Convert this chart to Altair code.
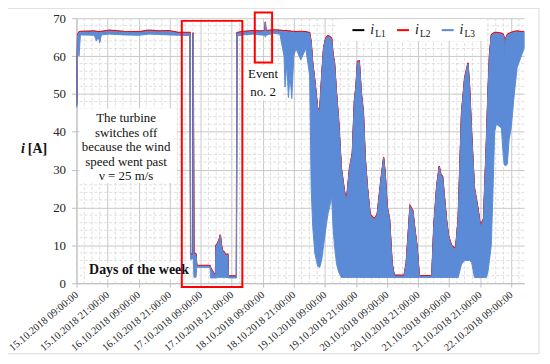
import altair as alt
import pandas as pd

# time in hours after 15.10.2018 09:00:00, upper / lower envelope of the phase currents [A]
hours = [0.1, 0.4, 1.0, 1.5, 6.9, 7.7, 8.4, 9.0, 9.6, 12.7, 18.4, 24.2, 28.0, 31.8, 35.7, 39.5,
         43.9, 44.1, 45.0, 45.1, 45.4, 46.2, 46.5, 51.6, 51.8, 53.7, 53.9, 54.5, 55.2, 55.6, 56.0,
         56.4, 57.2, 57.5, 58.5, 58.7, 61.8, 62.0,
         64.4, 68.3, 71.0, 72.8, 73.0, 73.2, 76.0, 78.6, 80.2, 80.6, 81.3, 81.9, 82.5, 83.2, 84.0,
         84.8, 86.7, 88.6, 90.1, 90.7, 91.3, 92.1, 93.2, 94.0, 94.8, 95.5, 96.3, 97.1, 97.8, 98.6,
         99.2, 99.7, 100.5, 101.3, 102.4, 103.6, 104.3, 105.5, 106.6, 107.4, 108.0, 108.6, 109.3,
         110.1, 110.9, 111.6, 112.4, 113.5, 115.1, 116.2, 117.8, 118.7, 119.3, 120.1, 121.0, 122.0,
         122.8, 126.6, 127.4, 128.1, 128.9, 130.0, 130.8, 131.6, 132.5, 137.3, 138.1, 139.2, 140.2,
         140.8, 141.5, 142.3, 143.1, 143.8, 145.0, 146.5, 147.5, 148.8, 150.0, 151.3, 151.9, 152.7,
         153.8, 155.2, 156.1, 157.3, 158.4, 159.0, 159.6, 160.3, 161.0, 161.6, 162.3, 164.2, 165.0,
         165.3, 165.7, 165.9, 166.5, 167.2, 168.0, 169.2, 170.3, 171.9, 173.0]
i_upper = [47.0, 65.5, 66.2, 66.3, 66.4, 66.3, 66.2, 66.2, 66.3, 66.6, 66.3, 66.2, 66.6, 66.4, 66.5, 66.0,
           66.0, 7.5, 7.5, 66.0, 7.8, 7.5, 4.5, 4.5, 4.0, 1.7, 9.8, 10.3, 11.5, 12.6, 10.0,
           8.5, 8.0, 7.4, 7.5, 1.7, 1.7, 66.0,
           66.3, 66.5, 66.4, 66.5, 68.8, 66.5, 66.7, 66.6, 66.5, 66.5, 66.5, 66.4, 66.4, 66.3, 66.3,
           66.2, 66.3, 66.2, 66.0, 63.5, 58.0, 53.5, 46.0, 45.5, 55.0, 62.0, 64.5, 65.2, 65.0, 64.5,
           60.0, 58.4, 50.0, 43.0, 30.0, 24.0, 21.6, 30.0, 34.3, 48.0, 51.8, 58.4, 58.5,
           50.0, 44.8, 33.0, 25.5, 18.0, 16.8, 18.0, 28.0, 33.0, 29.0, 20.0, 16.8, 5.0,
           1.9, 1.9, 5.0, 12.0, 20.3, 19.0, 14.0, 9.7, 1.8, 1.8, 15.0, 25.5, 30.7,
           28.5, 28.0, 22.0, 16.0, 12.3, 9.7, 9.0, 16.8, 44.8, 54.0, 58.0, 52.0, 39.6,
           25.0, 19.4, 15.0, 16.8, 37.0, 50.0, 60.0, 65.4, 65.8, 66.0, 66.0, 65.8, 65.5,
           64.5, 58.0, 64.5, 65.5, 65.8, 66.0, 66.3, 66.4, 66.2, 66.3]
i_lower = [46.5, 62.0, 60.0, 65.6, 65.5, 64.0, 65.0, 63.5, 65.6, 65.8, 65.6, 65.5, 65.8, 65.7, 65.6, 65.5,
           65.4, 6.3, 6.5, 7.0, 1.6, 1.6, 4.2, 4.2, 1.4, 1.4, 1.4, 1.5, 1.5, 1.5, 1.5,
           1.5, 1.5, 1.5, 1.5, 1.4, 1.4, 65.3,
           65.6, 65.8, 65.6, 65.5, 65.0, 65.5, 66.0, 65.8, 60.0, 51.8, 58.0, 49.0, 55.0, 48.8, 60.0,
           62.0, 59.0, 62.0, 55.0, 25.0, 15.0, 8.0, 4.5, 4.2, 6.3, 10.0, 14.0, 18.0, 20.0, 23.0,
           14.0, 10.0, 5.0, 3.0, 1.5, 1.5, 1.5, 1.5, 1.5, 1.5, 1.5, 1.5, 1.5,
           1.5, 1.5, 1.5, 1.5, 1.5, 1.5, 1.5, 1.5, 1.5, 1.5, 1.5, 1.5, 1.5,
           1.5, 1.5, 1.5, 1.5, 1.5, 1.5, 1.5, 1.5, 1.5, 1.5, 1.5, 1.5, 1.5,
           1.5, 1.5, 1.5, 1.5, 1.5, 1.5, 1.5, 1.5, 5.0, 6.0, 6.0, 6.0, 5.5,
           1.5, 1.5, 1.5, 1.5, 1.5, 3.0, 6.0, 10.0, 25.0, 40.0, 42.0, 41.0, 33.0,
           31.5, 31.0, 31.0, 31.5, 38.0, 41.0, 50.0, 57.0, 60.0, 62.0]

# annotation frames (hours, A)
frame_start = [40.7, 68.9]
frame_end = [64.1, 75.6]
frame_top = [69.3, 71.5]
frame_bottom = [-1.0, 58.3]

y_ticks = [0, 10, 20, 30, 40, 50, 60, 70]

T0 = pd.Timestamp("2018-10-15 09:00:00")
T_END = pd.Timestamp("2018-10-22 14:00:00")


def dt(ts):
    return alt.DateTime(year=ts.year, month=ts.month, date=ts.day, hours=ts.hour, minutes=ts.minute)


df = pd.DataFrame({"t": T0 + pd.to_timedelta(hours, unit="h"), "hi": i_upper, "lo": i_lower})
frames = pd.DataFrame({
    "t1": T0 + pd.to_timedelta(frame_start, unit="h"),
    "t2": T0 + pd.to_timedelta(frame_end, unit="h"),
    "v1": frame_top, "v2": frame_bottom,
})
major_x = [dt(T0 + pd.Timedelta(hours=12 * k)) for k in range(15)]
minor_x = pd.DataFrame({"t": [T0 + pd.Timedelta(hours=3 * k) for k in range(58) if k % 4 != 0]})
minor_y = pd.DataFrame({"v": [v for v in range(2, 70, 2) if v % 10 != 0]})

SERIF = "Liberation Serif"
BLUE = "#5b8bd6"
GRID = "#c8c8c8"

x_scale = alt.Scale(domain=[dt(T0), dt(T_END)])
y_scale = alt.Scale(domain=[0, 70], nice=False)
x_axis = alt.Axis(values=major_x, format="%d.%m.%Y %H:%M:%S", formatType="time", labelAngle=-40,
                  labelAlign="right", labelBaseline="middle", labelFontSize=10.5, labelPadding=6,
                  labelFont=SERIF, labelColor="#262626", tickSize=4, tickColor="#bfbfbf",
                  domainColor="#bfbfbf", grid=True, gridColor=GRID, title="", labelOverlap=False)
y_axis = alt.Axis(values=y_ticks, labelFontSize=13, labelFont=SERIF, labelColor="#262626",
                  labelPadding=6, tickSize=5, tickColor="#bfbfbf", domainColor="#bfbfbf",
                  grid=True, gridColor=GRID, title="")

X = alt.X("t:T", scale=x_scale, axis=x_axis)
Y = alt.Y("hi:Q", scale=y_scale, axis=y_axis)

one = pd.DataFrame({"a": [0]})

grid_v = alt.Chart(minor_x).mark_rule(color="#d6d6d6", strokeDash=[3, 2], strokeWidth=0.8).encode(x=X)
grid_h = alt.Chart(minor_y).mark_rule(color="#d6d6d6", strokeDash=[3, 2], strokeWidth=0.8).encode(
    y=alt.Y("v:Q", scale=y_scale, axis=y_axis))

border = alt.Chart(one).mark_rect(fillOpacity=0, stroke="#d9d9d9", strokeWidth=1).encode(
    x=alt.value(-71), x2=alt.value(466), y=alt.value(-10), y2=alt.value(338))

line_l1 = alt.Chart(df).mark_line(color="black", strokeWidth=1.0, yOffset=-0.5).encode(x=X, y=Y)
line_l2 = alt.Chart(df).mark_line(color="#ff0000", strokeWidth=1.3, yOffset=-0.9).encode(x=X, y=Y)
band_l3 = alt.Chart(df).mark_area(color=BLUE, stroke=BLUE, strokeWidth=1, opacity=1).encode(
    x=X, y=alt.Y("lo:Q", scale=y_scale, axis=y_axis), y2="hi:Q")

white = alt.Chart(one).mark_rect(fill="white")
box_turbine = white.encode(x=alt.value(3), x2=alt.value(101), y=alt.value(91), y2=alt.value(166))
box_event = white.encode(x=alt.value(170), x2=alt.value(208), y=alt.value(47), y2=alt.value(83))
box_days = white.encode(x=alt.value(9), x2=alt.value(106), y=alt.value(246), y2=alt.value(263))
box_legend = white.encode(x=alt.value(263), x2=alt.value(413), y=alt.value(1), y2=alt.value(23))

frame = alt.Chart(frames).mark_rect(fillOpacity=0, stroke="#ff0000", strokeWidth=2).encode(
    x=alt.X("t1:T", scale=x_scale, axis=x_axis), x2="t2:T",
    y=alt.Y("v1:Q", scale=y_scale, axis=y_axis), y2="v2:Q")

txt_turbine = alt.Chart(one).mark_text(
    text="The turbine\nswitches off\nbecause the wind\nspeed went past\nν = 25 m/s",
    lineBreak="\n", lineHeight=14.5, font=SERIF, fontSize=13, color="#111111",
    align="center", baseline="middle").encode(x=alt.value(50), y=alt.value(101))
txt_event = alt.Chart(one).mark_text(
    text="Event\nno. 2", lineBreak="\n", lineHeight=18, font=SERIF, fontSize=13, color="#111111",
    align="center", baseline="middle").encode(x=alt.value(188), y=alt.value(56))
txt_days = alt.Chart(one).mark_text(
    text="Days of the week", font=SERIF, fontSize=14, fontWeight="bold", color="#111111",
    align="center", baseline="middle").encode(x=alt.value(63), y=alt.value(254))
txt_i = alt.Chart(one).mark_text(
    text="i", font=SERIF, fontSize=14, fontWeight="bold", fontStyle="italic", color="#111111",
    align="left", baseline="middle").encode(x=alt.value(-56), y=alt.value(132))
txt_unit = alt.Chart(one).mark_text(
    text="[A]", font=SERIF, fontSize=14, fontWeight="bold", color="#111111",
    align="left", baseline="middle").encode(x=alt.value(-49), y=alt.value(132))

legend_layers = []
for x0, col, sub in [(278, "black", "L1"), (323, "#ff0000", "L2"), (368, BLUE, "L3")]:
    legend_layers.append(alt.Chart(one).mark_rule(color=col, strokeWidth=2).encode(
        x=alt.value(x0), x2=alt.value(x0 + 12), y=alt.value(12)))
    legend_layers.append(alt.Chart(one).mark_text(
        text="i", font=SERIF, fontSize=14, fontStyle="italic", color="#111111",
        align="left", baseline="alphabetic").encode(x=alt.value(x0 + 18), y=alt.value(16)))
    legend_layers.append(alt.Chart(one).mark_text(
        text=sub, font=SERIF, fontSize=9.5, color="#111111",
        align="left", baseline="alphabetic").encode(x=alt.value(x0 + 23), y=alt.value(19)))

chart = alt.layer(
    grid_v, grid_h, border, line_l1, line_l2, band_l3,
    box_turbine, box_event, box_days, box_legend, frame,
    txt_turbine, txt_event, txt_days, txt_i, txt_unit, *legend_layers
).properties(
    width=451, height=267,
    autosize=alt.AutoSizeParams(type="none"),
    padding={"left": 69, "top": 9, "right": 18, "bottom": 71},
).configure_view(stroke="transparent")

chart.save("out.html", embed_options={"renderer": "svg", "actions": False})
